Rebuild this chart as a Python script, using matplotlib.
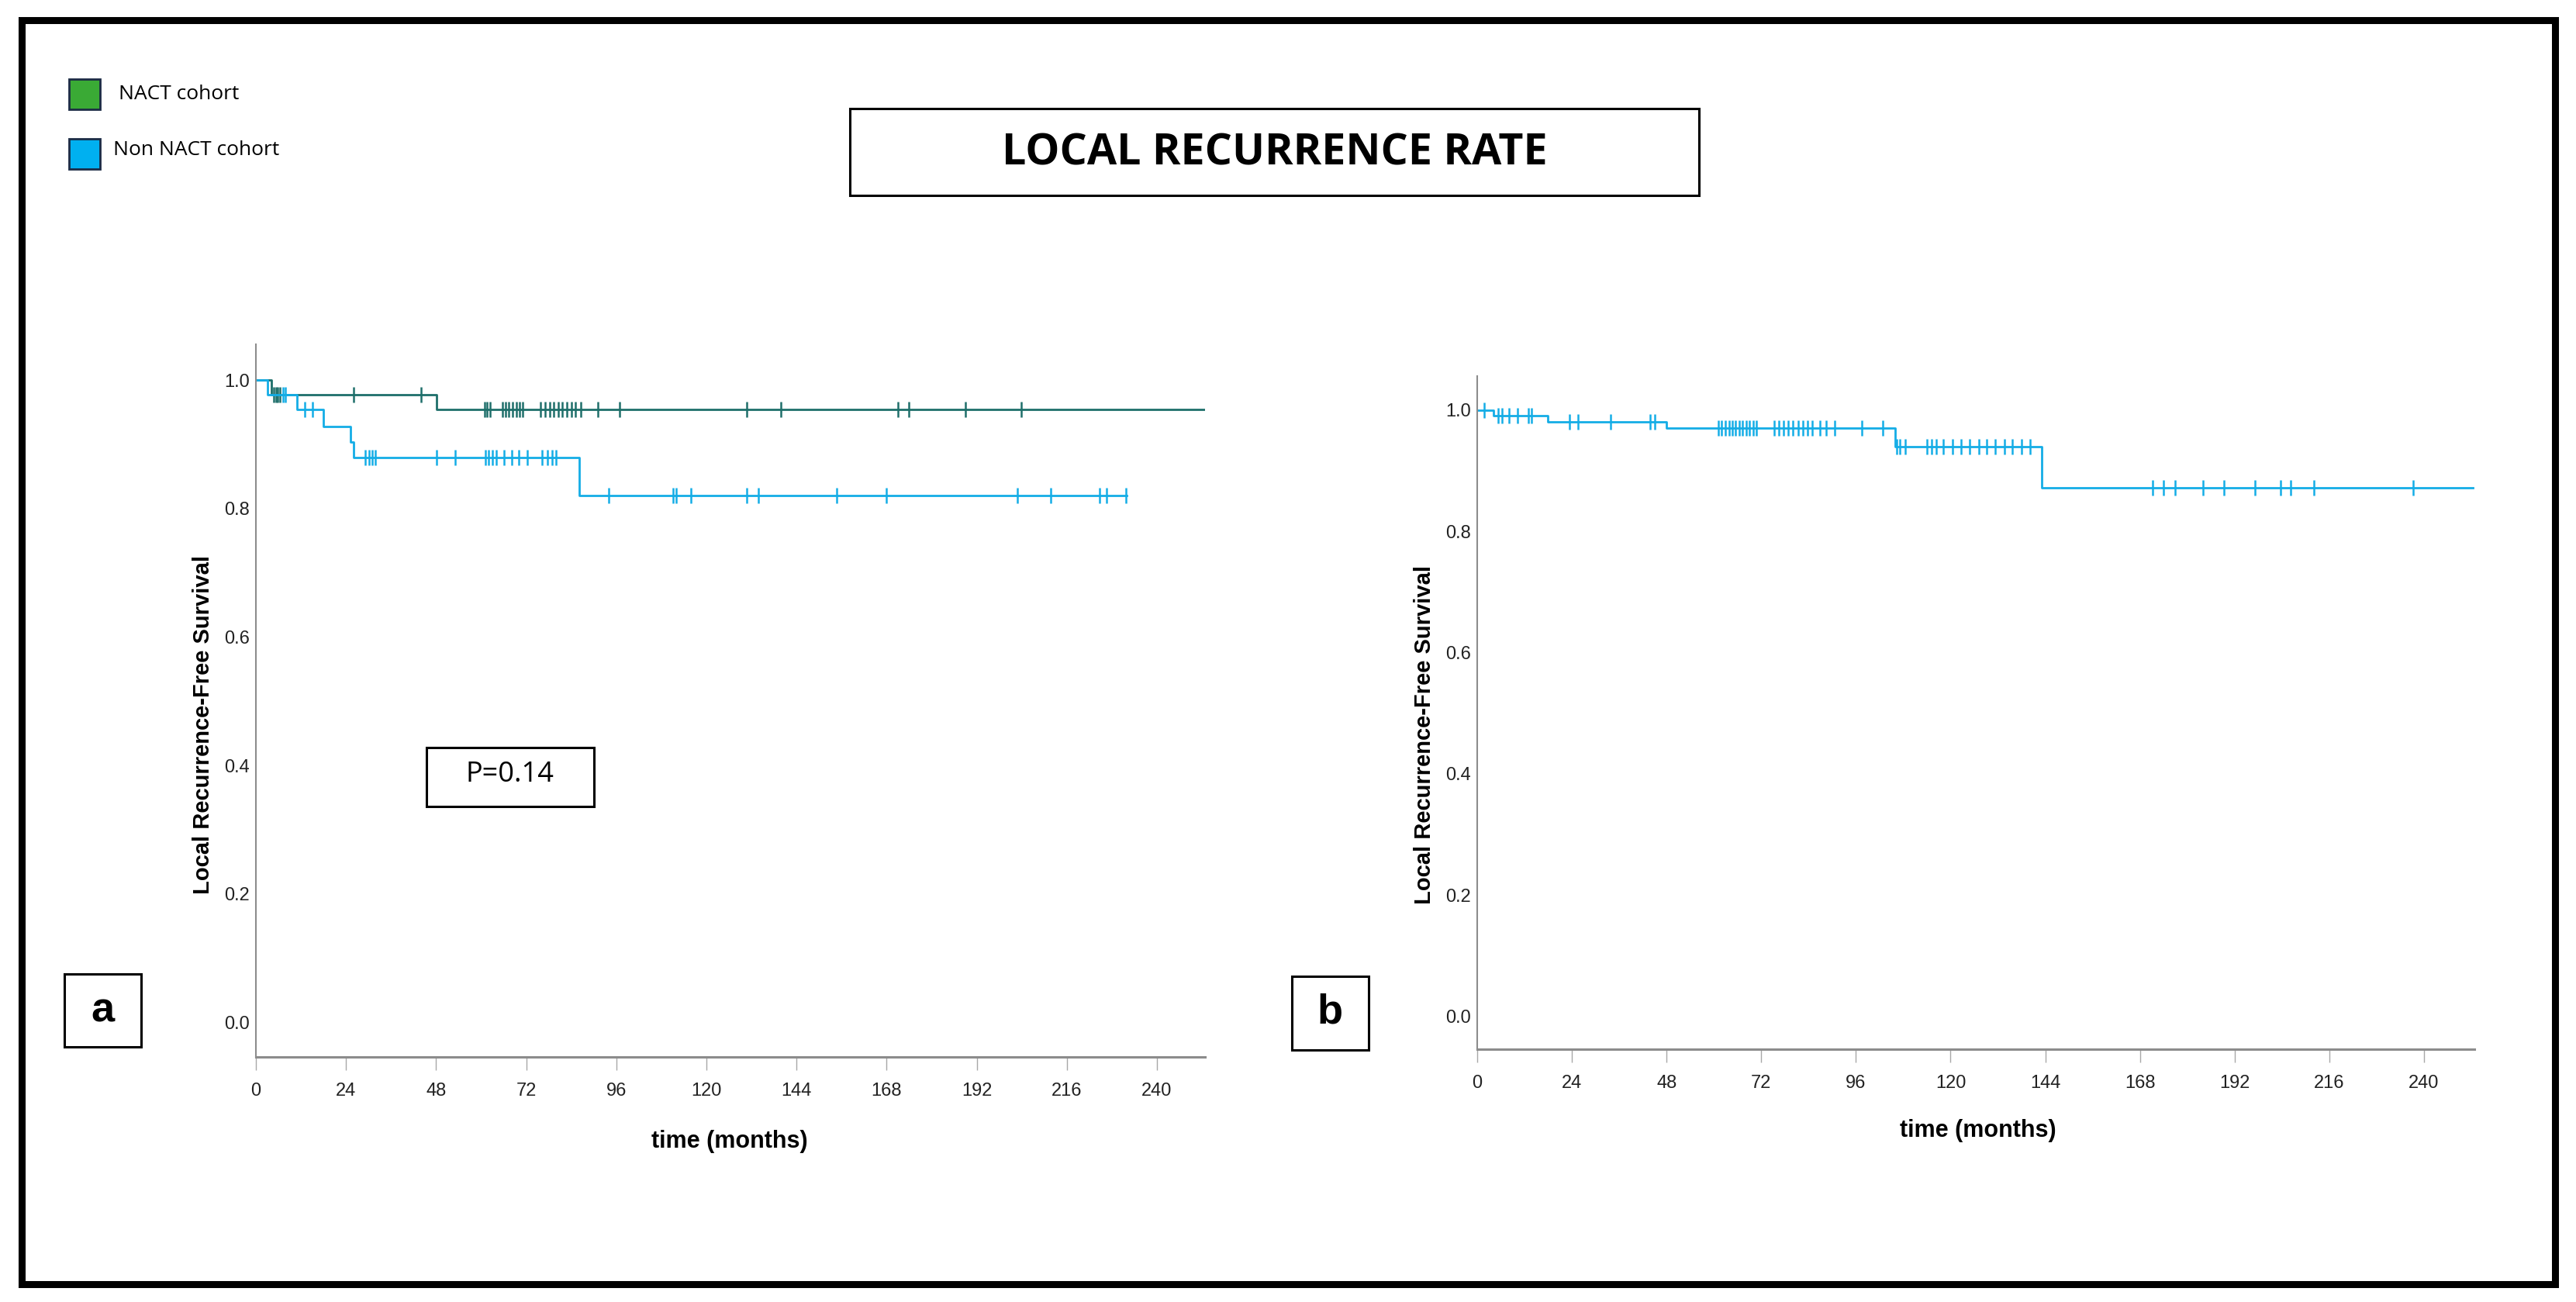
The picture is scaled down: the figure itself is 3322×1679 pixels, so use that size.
import numpy as np
import matplotlib
matplotlib.use("Agg")
import matplotlib.pyplot as plt
from matplotlib.patches import Rectangle

# ---- data (months, survival) ----
# panel a, NACT cohort
nact_times = [0, 4.1, 48.2, 252.5]
nact_surv = [1.0, 0.978, 0.955, 0.955]
nact_cens = [4.8, 5.3, 5.8, 6.4, 26.0, 44.0, 60.9, 61.6, 62.3, 65.7, 66.5,
             67.4, 68.4, 69.3, 70.3, 71.1, 75.9, 77.1, 78.2, 79.4, 80.6, 81.6,
             82.8, 84.0, 85.0, 86.5, 91.0, 96.8, 130.7, 139.9, 171.1, 173.8,
             188.9, 203.9]

# panel a, Non NACT cohort
non_times = [0, 3.1, 10.9, 18.0, 25.1, 26.0, 86.2, 231.9]
non_surv = [1.0, 0.978, 0.955, 0.928, 0.904, 0.880, 0.820, 0.820]
non_cens = [7.2, 7.9, 13.1, 15.1, 29.2, 30.1, 31.0, 31.9, 48.2, 53.0, 61.1,
            61.9, 62.9, 64.0, 66.0, 68.1, 70.1, 72.2, 76.3, 77.6, 78.8, 79.9,
            93.9, 111.2, 111.9, 115.8, 130.7, 133.8, 154.6, 168.0, 202.9,
            211.8, 224.8, 226.5, 231.7]

# panel b, whole cohort
all_times = [0, 4.1, 17.8, 48.0, 105.9, 143.1, 252.5]
all_surv = [1.0, 0.991, 0.980, 0.970, 0.940, 0.872, 0.872]
all_cens = [1.8, 5.3, 6.2, 8.0, 10.2, 12.9, 13.8, 23.4, 25.5, 33.9, 43.9,
            45.0, 61.1, 62.0, 62.9, 63.8, 64.6, 65.5, 66.4, 67.3, 68.2, 69.0,
            69.9, 70.8, 75.2, 76.4, 77.7, 78.9, 80.1, 81.3, 82.6, 83.8, 85.0,
            86.8, 88.5, 90.6, 97.5, 102.9, 106.3, 107.1, 108.5, 114.1, 115.2,
            116.4, 118.2, 120.5, 122.6, 124.9, 127.1, 129.2, 131.3, 133.6,
            135.7, 138.0, 140.1, 171.2, 174.0, 177.0, 184.0, 189.3, 197.2,
            203.7, 206.3, 212.1, 237.2]

xticks = list(range(0, 241, 24))
yticks = [0.0, 0.2, 0.4, 0.6, 0.8, 1.0]
ytick_labels = ["0.0", "0.2", "0.4", "0.6", "0.8", "1.0"]

TEAL = "#1e6f6a"
BLUE = "#14ade6"
AXIS_GREY = "#8c8c8c"

W, H = 3322, 1679
NARROW = ["Liberation Sans Narrow", "Liberation Sans"]
ARIAL = ["Liberation Sans", "DejaVu Sans"]
SOFT = ["Open Sans", "DejaVu Sans"]


def surv_at(times, surv, t):
    idx = np.searchsorted(times, t, side="right") - 1
    return np.asarray(surv)[idx]


def fbox(x0, y0, x1, y1):
    # pixel box (top-left origin) -> figure fraction rect
    return [x0 / W, 1 - y1 / H, (x1 - x0) / W, (y1 - y0) / H]


def km(ax, times, surv, cens, color):
    ax.step(times, surv, where="post", color=color, lw=2.0)
    ax.plot(cens, surv_at(times, surv, cens), ls="none", marker="|",
            ms=14, mew=1.8, color=color)


def style_axes(ax, xlab_xy, ylab_xy):
    ax.set_xlim(0, 252.8)
    ax.set_ylim(-0.054, 1.056)
    for s in ("top", "right"):
        ax.spines[s].set_visible(False)
    ax.spines["bottom"].set_color(AXIS_GREY)
    ax.spines["bottom"].set_linewidth(2.2)
    ax.spines["left"].set_color(AXIS_GREY)
    ax.spines["left"].set_linewidth(1.5)
    ax.set_xticks(xticks)
    ax.set_xticklabels([str(t) for t in xticks], family=NARROW, fontsize=17)
    ax.set_yticks(yticks)
    ax.set_yticklabels(ytick_labels, family=NARROW, fontsize=17, color="#222222")
    ax.tick_params(axis="x", length=12, width=1, color="#a8a8a8", pad=12,
                   labelcolor="#222222")
    ax.tick_params(axis="y", length=0, pad=6)
    ax.set_xlabel("time (months)", family=NARROW, fontsize=22,
                  fontweight="bold", va="center")
    ax.xaxis.set_label_coords(*xlab_xy)
    ax.set_ylabel("Local Recurrence-Free Survival", family=ARIAL, fontsize=21,
                  fontweight="bold", va="center", ha="center")
    ax.yaxis.set_label_coords(*ylab_xy)


fig = plt.figure(figsize=(W / 100, H / 100), dpi=100)
fig.patch.set_facecolor("white")

ax1 = fig.add_axes(fbox(330, 444, 1554, 1363))
km(ax1, nact_times, nact_surv, nact_cens, TEAL)
km(ax1, non_times, non_surv, non_cens, BLUE)
style_axes(ax1, (0.499, -0.119), (-0.0556, 0.466))

ax2 = fig.add_axes(fbox(1905, 485, 3191, 1353))
km(ax2, all_times, all_surv, all_cens, BLUE)
style_axes(ax2, (0.502, -0.121), (-0.053, 0.467))


def box(x0, y0, x1, y1, lw, fc="none", ec="black"):
    r = fbox(x0, y0, x1, y1)
    fig.patches.append(Rectangle((r[0], r[1]), r[2], r[3], transform=fig.transFigure,
                                 fill=fc != "none", facecolor=fc, edgecolor=ec,
                                 lw=lw, zorder=5))


def ftext(x, y, s, **kw):
    fig.text(x / W, 1 - y / H, s, **kw)


# outer frame
box(27.5, 25.5, 3294.5, 1655.5, 6.5)

# title
box(1096, 140, 2191, 252, 2.2)
ftext(1644, 198, "LOCAL RECURRENCE RATE", family=SOFT, fontsize=40,
      fontweight="bold", ha="center", va="center")

# legend
box(89, 102, 129, 141, 2.0, fc="#3aaa35", ec="#1c2b45")
box(89, 179, 129, 218, 2.0, fc="#00b0f0", ec="#1c2b45")
ftext(153, 121, "NACT cohort", family=SOFT, fontsize=19, ha="left", va="center")
ftext(146, 193, "Non NACT cohort", family=SOFT, fontsize=19, ha="left", va="center")

# p value
box(550, 964, 766, 1040, 2.2)
ftext(658, 999, "P=0.14", family=SOFT, fontsize=26, ha="center", va="center")

# panel letters
box(83, 1256, 182, 1350, 2.2)
ftext(132, 1303, "a", family=ARIAL, fontsize=39, fontweight="bold",
      ha="center", va="center")
box(1666, 1259, 1765, 1354, 2.2)
ftext(1715, 1306, "b", family=ARIAL, fontsize=39, fontweight="bold",
      ha="center", va="center")

fig.savefig("out.png", dpi=100, facecolor="white")
